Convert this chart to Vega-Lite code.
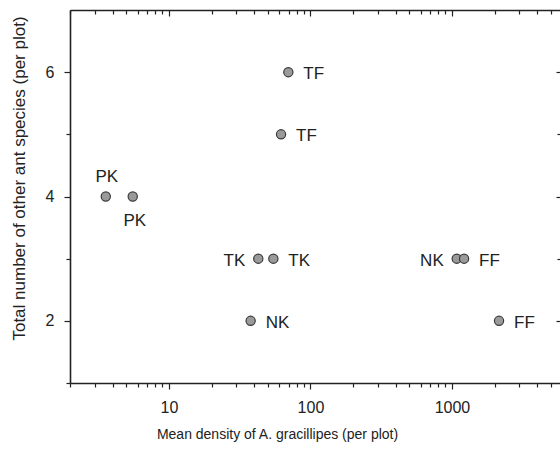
{
  "$schema": "https://vega.github.io/schema/vega-lite/v6.json",
  "width": 490,
  "height": 373,
  "autosize": {"type": "none"},
  "padding": {"left": 70, "top": 10, "right": 0, "bottom": 66},
  "background": "white",
  "config": {
    "view": {"stroke": null},
    "font": "Liberation Sans",
    "axis": {
      "grid": false,
      "domainColor": "#222222",
      "tickColor": "#222222",
      "labelColor": "#222222",
      "titleColor": "#222222",
      "labelFont": "Liberation Sans",
      "titleFont": "Liberation Sans",
      "titleFontWeight": "normal",
      "domainWidth": 1.6,
      "tickWidth": 1.2
    }
  },
  "data": {
    "values": [
      {"id": "PK1", "label": "PK", "density": 3.58, "species": 4},
      {"id": "PK2", "label": "PK", "density": 5.55, "species": 4},
      {"id": "TF6", "label": "TF", "density": 69.8, "species": 6},
      {"id": "TF5", "label": "TF", "density": 62.0, "species": 5},
      {"id": "TK1", "label": "TK", "density": 42.8, "species": 3},
      {"id": "TK2", "label": "TK", "density": 54.7, "species": 3},
      {"id": "NK2", "label": "NK", "density": 37.8, "species": 2},
      {"id": "NK3", "label": "NK", "density": 1081, "species": 3},
      {"id": "FF3", "label": "FF", "density": 1218, "species": 3},
      {"id": "FF2", "label": "FF", "density": 2151, "species": 2}
    ]
  },
  "layer": [
    {
      "mark": {"type": "circle", "size": 85, "fill": "#9a9a9a", "stroke": "#3a3a3a", "strokeWidth": 1.2, "opacity": 1},
      "encoding": {
        "x": {
          "field": "density", "type": "quantitative",
          "scale": {"type": "log", "domain": [2, 5800], "nice": false},
          "axis": {
            "orient": "bottom",
            "values": [2,3,4,5,6,7,8,9,10,20,30,40,50,60,70,80,90,100,200,300,400,500,600,700,800,900,1000,2000,3000,4000,5000],
            "format": "d",
            "labelExpr": "datum.value==10||datum.value==100||datum.value==1000 ? datum.label : ''",
            "tickSize": {"condition": {"test": "datum.value==10||datum.value==100||datum.value==1000", "value": 6}, "value": 4},
            "labelFontSize": 16,
            "labelPadding": 10,
            "labelFlush": false,
            "labelOverlap": false,
            "title": "Mean density of A. gracillipes (per plot)",
            "titleFontSize": 14,
            "titleX": 207,
            "titleY": 55,
            "titleBaseline": "alphabetic",
            "titleAlign": "center"
          }
        },
        "y": {
          "field": "species", "type": "quantitative",
          "scale": {"domain": [1, 7], "nice": false, "zero": false},
          "axis": {
            "orient": "left",
            "values": [1,2,3,4,5,6],
            "labelExpr": "datum.value%2==0 ? datum.label : ''",
            "tickSize": {"condition": {"test": "datum.value%2==0", "value": 6}, "value": 4},
            "labelFontSize": 16,
            "labelPadding": 10,
            "labelFlush": false,
            "labelOverlap": false,
            "title": "Total number of other ant species (per plot)",
            "titleFontSize": 17,
            "titleX": -51,
            "titleY": 168,
            "titleBaseline": "middle",
            "titleAlign": "center"
          }
        }
      }
    },
    {
      "mark": {"type": "circle", "opacity": 0},
      "encoding": {
        "x": {
          "field": "density", "type": "quantitative",
          "scale": {"type": "log", "domain": [2, 5800], "nice": false},
          "axis": {
            "orient": "top",
            "values": [2,3,4,5,6,7,8,9,10,20,30,40,50,60,70,80,90,100,200,300,400,500,600,700,800,900,1000,2000,3000,4000,5000],
            "labels": false,
            "tickSize": {"condition": {"test": "datum.value==10||datum.value==100||datum.value==1000", "value": -6}, "value": -4},
            "title": null
          }
        },
        "y": {
          "field": "species", "type": "quantitative",
          "scale": {"domain": [1, 7], "nice": false, "zero": false},
          "axis": {
            "orient": "right",
            "values": [2,3,4,5,6],
            "labels": false,
            "domain": false,
            "tickSize": {"condition": {"test": "datum.value%2==0", "value": -4}, "value": -3},
            "title": null
          }
        }
      }
    },
    {
      "transform": [{"filter": "datum.id == 'PK1'"}],
      "mark": {"type": "text", "fontSize": 17, "color": "#222222", "align": "center", "baseline": "middle", "dx": 1, "dy": -20},
      "encoding": {
        "x": {"field": "density", "type": "quantitative", "axis": null},
        "y": {"field": "species", "type": "quantitative", "axis": null},
        "text": {"field": "label"}
      }
    },
    {
      "transform": [{"filter": "datum.id == 'PK2'"}],
      "mark": {"type": "text", "fontSize": 17, "color": "#222222", "align": "center", "baseline": "middle", "dx": 2, "dy": 24},
      "encoding": {
        "x": {"field": "density", "type": "quantitative", "axis": null},
        "y": {"field": "species", "type": "quantitative", "axis": null},
        "text": {"field": "label"}
      }
    },
    {
      "transform": [{"filter": "indexof(['TF6','TF5','TK2','NK2','FF3','FF2'], datum.id) >= 0"}],
      "mark": {"type": "text", "fontSize": 17, "color": "#222222", "align": "left", "baseline": "middle", "dx": 15, "dy": 2},
      "encoding": {
        "x": {"field": "density", "type": "quantitative", "axis": null},
        "y": {"field": "species", "type": "quantitative", "axis": null},
        "text": {"field": "label"}
      }
    },
    {
      "transform": [{"filter": "indexof(['TK1','NK3'], datum.id) >= 0"}],
      "mark": {"type": "text", "fontSize": 17, "color": "#222222", "align": "right", "baseline": "middle", "dx": -13, "dy": 2},
      "encoding": {
        "x": {"field": "density", "type": "quantitative", "axis": null},
        "y": {"field": "species", "type": "quantitative", "axis": null},
        "text": {"field": "label"}
      }
    }
  ],
  "resolve": {"axis": {"x": "independent", "y": "independent"}}
}
